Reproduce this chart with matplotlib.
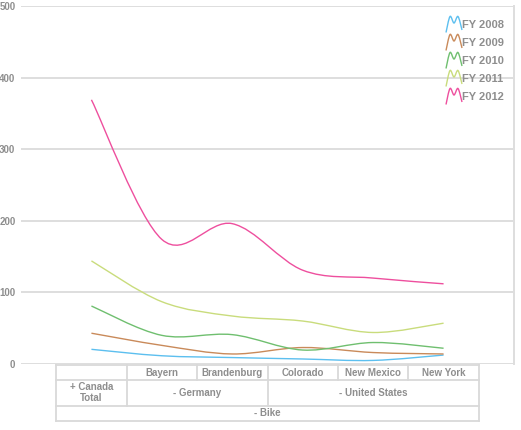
import matplotlib
matplotlib.use("Agg")
import matplotlib.pyplot as plt
from matplotlib.path import Path
from matplotlib.patches import PathPatch
from matplotlib.lines import Line2D
from matplotlib.transforms import blended_transform_factory
import numpy as np

# ---- data ----
categories = ["Canada Total", "Bayern", "Brandenburg", "Colorado", "New Mexico", "New York"]
header_labels = ["", "Bayern", "Brandenburg", "Colorado", "New Mexico", "New York"]
series_names = ["FY 2008", "FY 2009", "FY 2010", "FY 2011", "FY 2012"]
fy2008 = [20.5, 11.5, 9, 7, 5, 12.5]
fy2009 = [43, 26, 14, 23, 16, 14]
fy2010 = [81, 40, 41, 19.5, 30, 22]
fy2011 = [144, 87, 67, 60, 44, 57]
fy2012 = [369, 174, 196, 131, 120, 112]
series_values = [fy2008, fy2009, fy2010, fy2011, fy2012]
colors = ["#5cbfef", "#c98a5a", "#6fbf6f", "#c9dc7c", "#ee4f9e"]
yticks = [0, 100, 200, 300, 400, 500]
group_labels = ["+ Canada\nTotal", "- Germany", "- United States"]
group_spans = [(0, 0), (1, 2), (3, 5)]
root_label = "- Bike"

W, H = 521, 430
fig = plt.figure(figsize=(W / 100, H / 100), dpi=100)
ax = fig.add_axes([21 / W, 1 - 364 / H, (514 - 21) / W, (364 - 6) / H])

txt_color = "#8e8e8e"
grid_color = "#dedede"
font = "Liberation Sans"


def catmull_rom_path(xs, ys):
    pts = np.column_stack([xs, ys]).astype(float)
    n = len(pts)
    verts = [pts[0]]
    codes = [Path.MOVETO]
    for i in range(n - 1):
        p0 = pts[i - 1] if i > 0 else pts[i]
        p1 = pts[i]
        p2 = pts[i + 1]
        p3 = pts[i + 2] if i + 2 < n else pts[i + 1]
        c1 = p1 + (p2 - p0) / 6.0
        c2 = p2 - (p3 - p1) / 6.0
        verts += [c1, c2, p2]
        codes += [Path.CURVE4] * 3
    return Path(verts, codes)


x = np.arange(len(categories))
for vals, c in zip(series_values, colors):
    p = catmull_rom_path(x, vals)
    ax.add_patch(PathPatch(p, facecolor="none", edgecolor=c, lw=1.0, zorder=3))

ax.set_xlim(-1, 6)
ax.set_ylim(0, 500)
ax.set_yticks(yticks)
ax.set_xticks([])
ax.yaxis.grid(True, color=grid_color, lw=1.4)
ax.set_axisbelow(True)
for s in ["top", "left", "bottom"]:
    ax.spines[s].set_visible(False)
ax.spines["right"].set_color(grid_color)
ax.spines["right"].set_linewidth(1.4)
ax.tick_params(axis="y", length=0, pad=4, labelsize=7, labelcolor=txt_color)
for lab in ax.get_yticklabels():
    lab.set_fontweight("bold")
    lab.set_fontfamily(font)

# ---- legend (manual, spline "M" icons) ----
icon_px = np.array([0, 4, 8, 12, 16], dtype=float)
icon_py = np.array([16, 0, 6.5, 0, 13.5], dtype=float)
icon_path = catmull_rom_path(icon_px, icon_py)
for i, (name, c) in enumerate(zip(series_names, colors)):
    yc = 24.5 + 18 * i
    verts = icon_path.vertices.copy()
    vx = (446 + verts[:, 0]) / W
    vy = 1 - (yc - 8 + verts[:, 1]) / H
    pp = Path(np.column_stack([vx, vy]), icon_path.codes)
    fig.add_artist(PathPatch(pp, transform=fig.transFigure, facecolor="none",
                             edgecolor=c, lw=1.0))
    fig.text(462.5 / W, 1 - yc / H, name, ha="left", va="center", fontsize=8,
             fontweight="bold", color=txt_color, family=font)

# ---- table below axis ----
tr = blended_transform_factory(ax.transData, fig.transFigure)
rows = [365, 380, 405.5, 421]
line_kw = dict(color="#d9d9d9", lw=1.3, transform=tr, clip_on=False)
left, right = -0.5, len(categories) - 0.5
for r in rows:
    ax.add_line(Line2D([left, right], [1 - r / H] * 2, **line_kw))


def vline(xd, r0, r1):
    ax.add_line(Line2D([xd, xd], [1 - r0 / H, 1 - r1 / H], **line_kw))


for i in range(len(categories) + 1):
    vline(i - 0.5, rows[0], rows[1])
for a, b in group_spans:
    vline(a - 0.5, rows[1], rows[2])
vline(right, rows[1], rows[2])
vline(left, rows[2], rows[3])
vline(right, rows[2], rows[3])

tkw = dict(ha="center", va="center", fontsize=7, fontweight="bold", color=txt_color,
           family=font, transform=tr)
for i, lab in enumerate(header_labels):
    if lab:
        ax.text(i, 1 - 372.5 / H, lab, **tkw)
for lab, (a, b) in zip(group_labels, group_spans):
    ax.text((a + b) / 2, 1 - 392.5 / H, lab, linespacing=1.1, **tkw)
ax.text((left + right) / 2, 1 - 413 / H, root_label, **tkw)

fig.savefig("out.png", dpi=100)
